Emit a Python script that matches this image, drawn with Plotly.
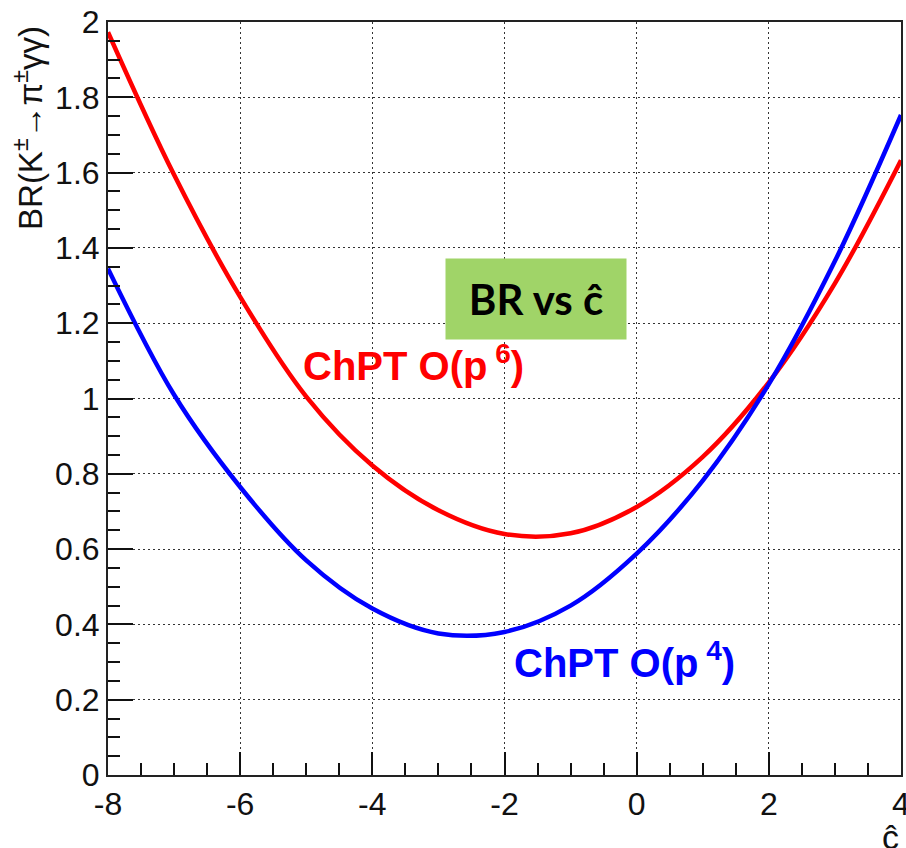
import plotly.graph_objects as go

# ---- data ----
c_hat = [-8, -7, -6, -5, -4, -3, -2, -1, 0, 1, 2, 3, 4]
br_p6 = [1.973, 1.594, 1.270, 1.005, 0.822, 0.703, 0.640, 0.642, 0.712, 0.845, 1.043, 1.306, 1.633]
br_p4 = [1.345, 1.010, 0.765, 0.570, 0.442, 0.376, 0.380, 0.450, 0.588, 0.782, 1.038, 1.365, 1.753]

x_ticks = [-8, -6, -4, -2, 0, 2, 4]
x_tick_text = ["-8", "-6", "-4", "-2", "0", "2", "4"]
y_ticks = [0, 0.2, 0.4, 0.6, 0.8, 1.0, 1.2, 1.4, 1.6, 1.8, 2.0]
y_tick_text = ["0", "0.2", "0.4", "0.6", "0.8", "1", "1.2", "1.4", "1.6", "1.8", "2"]

label_p6 = "ChPT O(p<sup> 6</sup>)"
label_p4 = "ChPT O(p<sup> 4</sup>)"
box_text = "BR vs ĉ"
y_title = "BR(K<sup>±</sup>→π<sup>±</sup>γγ)"
x_title = "ĉ"

FONT = "Liberation Sans, Arial, sans-serif"

fig = go.Figure()
fig.add_trace(go.Scatter(x=c_hat, y=br_p6, mode="lines",
                         line=dict(color="#FF0000", width=4.5, shape="spline", smoothing=1.0),
                         showlegend=False))
fig.add_trace(go.Scatter(x=c_hat, y=br_p4, mode="lines",
                         line=dict(color="#0000FF", width=4.5, shape="spline", smoothing=1.0),
                         showlegend=False))

axis_common = dict(
    showline=True, linecolor="#222", linewidth=2, mirror=True,
    ticks="inside", tickcolor="#111", tickwidth=1.5,
    showgrid=True, gridcolor="#333", gridwidth=1, griddash="2px,3px",
    zeroline=False,
    tickfont=dict(family=FONT, size=32, color="#111"),
    ticklabeloverflow="allow",
    automargin=False,
)

fig.update_xaxes(range=[-8, 4], tickvals=x_ticks, ticktext=x_tick_text, ticklen=23,
                 minor=dict(dtick=0.5, ticklen=12, tickcolor="#111", tickwidth=1.5, showgrid=False, ticks="inside"),
                 **axis_common)
fig.update_yaxes(range=[0, 2], tickvals=y_ticks, ticktext=y_tick_text, ticklen=25,
                 minor=dict(dtick=0.05, ticklen=12, tickcolor="#111", tickwidth=1.5, showgrid=False, ticks="inside"),
                 **axis_common)

fig.update_layout(
    width=906, height=848,
    margin=dict(l=108, r=5, t=22, b=73),
    paper_bgcolor="white", plot_bgcolor="white",
    font=dict(family=FONT),
)

fig.add_annotation(x=-5.08, y=1.094, xref="x", yref="y", text=label_p6, showarrow=False,
                   xanchor="left", yanchor="middle",
                   font=dict(family=FONT, size=40, color="#FF0000", weight="bold"))
fig.add_annotation(x=-1.888, y=0.305, xref="x", yref="y", text=label_p4, showarrow=False,
                   xanchor="left", yanchor="middle",
                   font=dict(family=FONT, size=40, color="#0000FF", weight="bold"))
fig.add_annotation(x=-1.525, y=1.264, xref="x", yref="y", text="<b>" + box_text + "</b>",
                   showarrow=False, width=178, height=78, bgcolor="#A0D468",
                   xanchor="center", yanchor="middle", align="center", valign="middle",
                   font=dict(family="Lato, Open Sans, sans-serif", size=42, color="black"))
fig.add_annotation(x=-0.1, y=0.997, xref="paper", yref="paper", text=y_title, showarrow=False,
                   textangle=-90, xanchor="center", yanchor="top",
                   font=dict(family=FONT, size=33, color="#111"))
fig.add_annotation(x=1.0, y=-0.082, xref="paper", yref="paper", text=x_title, showarrow=False,
                   xanchor="right", yanchor="middle",
                   font=dict(family=FONT, size=34, color="#111"))

fig.write_html("out.html")
